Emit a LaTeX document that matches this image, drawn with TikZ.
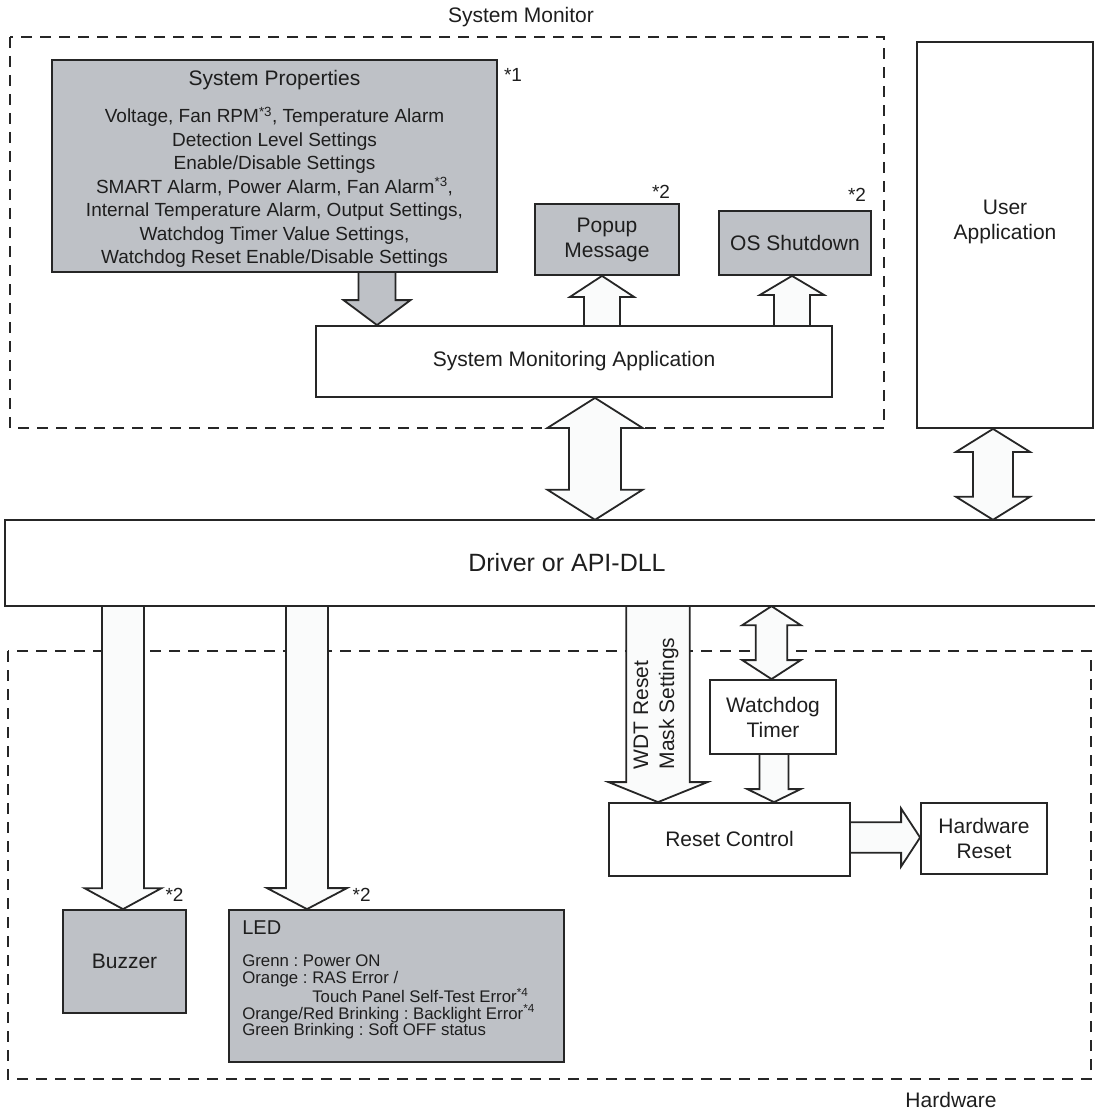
\documentclass[tikz,border=0pt]{standalone}
\usepackage{fontspec}
\setmainfont{Liberation Sans}
\usetikzlibrary{calc,positioning,backgrounds}
\definecolor{boxgray}{RGB}{190,193,198}
\definecolor{boxline}{RGB}{38,38,38}
\definecolor{inktext}{RGB}{30,30,30}
\definecolor{shaftfill}{RGB}{250,251,251}
\tikzset{
  box/.style={
    draw=boxline,
    line width=1.8pt,
    fill=white,
    inner sep=0pt,
    align=center,
    text=inktext,
    font=\fontsize{21}{25}\selectfont
  },
  graybox/.style={
    box,
    fill=boxgray
  },
  dashframe/.style={
    draw=boxline,
    line width=1.6pt,
    dash pattern=on 11pt off 8pt
  },
  fatline/.style={
    draw=boxline,
    line width=1.8pt,
    fill=shaftfill
  },
  note/.style={
    inner sep=0pt,
    text=inktext,
    font=\fontsize{19}{19}\selectfont
  },
  grouptitle/.style={
    inner sep=0pt,
    text=inktext,
    font=\fontsize{21}{21}\selectfont
  }
}
% fat arrows: [style]{x or y}{from}{to}{shaft half width}{head half width}{head length}
\newcommand{\fatdown}[7][]{%
  \draw[fatline,#1] let \p3=(#2,0), \p1=(#3), \p2=(#4) in
    (\x3-#5,\y1) -- (\x3-#5,\y2+#7) -- (\x3-#6,\y2+#7) -- (\x3,\y2)
    -- (\x3+#6,\y2+#7) -- (\x3+#5,\y2+#7) -- (\x3+#5,\y1);}
\newcommand{\fatup}[7][]{%
  \draw[fatline,#1] let \p3=(#2,0), \p1=(#3), \p2=(#4) in
    (\x3-#5,\y1) -- (\x3-#5,\y2-#7) -- (\x3-#6,\y2-#7) -- (\x3,\y2)
    -- (\x3+#6,\y2-#7) -- (\x3+#5,\y2-#7) -- (\x3+#5,\y1);}
\newcommand{\fatboth}[7][]{%
  \draw[fatline,#1] let \p3=(#2,0), \p1=(#3), \p2=(#4) in
    (\x3,\y1) -- (\x3+#6,\y1-#7) -- (\x3+#5,\y1-#7) -- (\x3+#5,\y2+#7)
    -- (\x3+#6,\y2+#7) -- (\x3,\y2) -- (\x3-#6,\y2+#7) -- (\x3-#5,\y2+#7)
    -- (\x3-#5,\y1-#7) -- (\x3-#6,\y1-#7) -- cycle;}
\newcommand{\fatright}[7][]{%
  \draw[fatline,#1] let \p3=(0,#2), \p1=(#3), \p2=(#4) in
    (\x1,\y3+#5) -- (\x2-#7,\y3+#5) -- (\x2-#7,\y3+#6) -- (\x2,\y3)
    -- (\x2-#7,\y3-#6) -- (\x2-#7,\y3-#5) -- (\x1,\y3-#5);}
\begin{document}
\frenchspacing
\begin{tikzpicture}[x=1pt,y=-1pt]
  \useasboundingbox (0,0) rectangle (1095,1115);
  % groups
  \begin{scope}[on background layer]
    \draw[dashframe] (10,37) rectangle (884,428);
    \draw[dashframe] (8,651) rectangle (1091,1079);
  \end{scope}
  \node[grouptitle] (montitle) at (521,17) {System Monitor};
  \node[grouptitle] (hwtitle) at (951,1100) {Hardware};

  % system monitor
  \node[graybox, minimum width=445pt, minimum height=212pt,
    font=\fontsize{19}{23.5}\selectfont] (props) at (274.5,166) {%
    {\fontsize{21}{23.5}\selectfont\rule{0pt}{21pt}System Properties}\\[13.5pt]
    Voltage, Fan RPM\textsuperscript{*3}, Temperature Alarm\\
    Detection Level Settings\\
    Enable/Disable Settings\\
    SMART Alarm, Power Alarm, Fan Alarm\textsuperscript{*3},\\
    Internal Temperature Alarm, Output Settings,\\
    Watchdog Timer Value Settings,\\
    Watchdog Reset Enable/Disable Settings};
  \node[note] (star1) at (513,75) {*1};
  \node[graybox, minimum width=144pt, minimum height=71pt] (popup) at (607,239.5) {Popup\\Message};
  \node[graybox, minimum width=152pt, minimum height=64pt] (osd) at (795,243) {OS Shutdown};
  \node[box, minimum width=516pt, minimum height=71pt] (sma) at (574,361.5) {System Monitoring Application};
  \node[box, minimum width=176pt, minimum height=386pt] (userapp) at (1005,235) {};
  \node[box, draw=none, fill=none] (usertext) at (1005,222) {User\\Application};

  % driver
  \node[inner sep=0pt, minimum width=1090pt, minimum height=86pt, text=inktext,
    font=\fontsize{25}{25}\selectfont] (driver) at (550,563) {\hspace*{34pt}Driver or API-DLL};
  \draw[boxline, line width=1.8pt] (driver.north east) -- (driver.north west)
    -- (driver.south west) -- (driver.south east);

  % hardware
  \node[box, minimum width=125.5pt, minimum height=74pt] (wdt) at (773,717) {Watchdog\\Timer};
  \node[box, minimum width=241pt, minimum height=72.6pt] (reset) at (729.5,839.3) {Reset Control};
  \node[box, minimum width=126pt, minimum height=71pt] (hwreset) at (984,838.5) {Hardware\\Reset};
  \node[graybox, minimum width=123pt, minimum height=102.7pt] (buzzer) at (124.5,961.4) {Buzzer};
  \node[graybox, minimum width=335pt, minimum height=152pt] (led) at (396.5,986) {};
  \node[inner sep=0pt, align=left, text=inktext, font=\fontsize{16.8}{16.7}\selectfont,
    below right=11pt and 14pt of led.north west] (ledtext) {%
    {\fontsize{20}{16.7}\selectfont LED}\\[16pt]
    Grenn : Power ON\\
    Orange : RAS Error /\\
    \hspace*{70pt}Touch Panel Self-Test Error\textsuperscript{*4}\\
    Orange/Red Brinking : Backlight Error\textsuperscript{*4}\\
    Green Brinking : Soft OFF status};
  \foreach \xx/\yy [count=\i] in {661/192,857/195,174.5/895,361.6/895}
    \node[note] (star2\i) at (\xx,\yy) {*2};

  % fat arrows
  \begin{scope}[on background layer]
    \fatdown[fill=boxgray]{377}{props.south}{sma.north}{18.5pt}{33.5pt}{25pt}
    \fatup{602}{sma.north}{popup.south}{18pt}{32pt}{21pt}
    \fatup{792}{sma.north}{osd.south}{18pt}{32pt}{19pt}
    \fatboth{595}{sma.south}{driver.north}{26pt}{47.5pt}{30pt}
    \fatboth{993}{userapp.south}{driver.north}{20pt}{37pt}{23pt}
    \fatdown{123}{driver.south}{buzzer.north}{21pt}{38.5pt}{21pt}
    \fatdown{307}{driver.south}{led.north}{21pt}{40pt}{21pt}
    \fatdown{658}{driver.south}{reset.north}{31.7pt}{49.5pt}{20pt}
    \fatboth{771.5}{driver.south}{wdt.north}{15.7pt}{29.3pt}{19pt}
    \fatdown{774}{wdt.south}{reset.north}{14.5pt}{26.7pt}{13pt}
    \fatright{837.5}{reset.east}{hwreset.west}{15.3pt}{29pt}{19pt}
  \end{scope}
  \node[rotate=90, align=left, inner sep=0pt, text=inktext,
    font=\fontsize{21}{26}\selectfont] (wdtlabel) at (656,703.5) {WDT Reset\\Mask Settings};
\end{tikzpicture}
\end{document}
